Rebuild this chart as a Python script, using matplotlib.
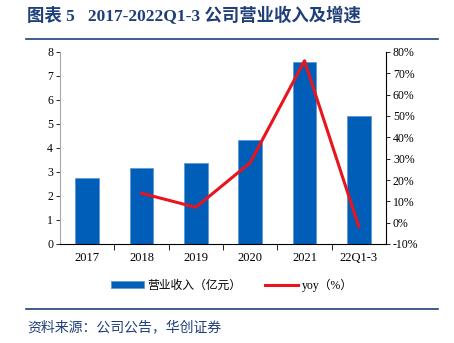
import matplotlib.pyplot as plt
import numpy as np

plt.rcParams['font.family'] = ['Liberation Serif', 'Noto Sans CJK SC']

# revenue (100m yuan) and yoy growth (%)
years = ['2017', '2018', '2019', '2020', '2021', '22Q1-3']
revenue = [2.77, 3.15, 3.39, 4.33, 7.58, 5.32]
yoy = [None, 13.8, 7.2, 28.1, 75.9, -1.9]

bar_color = '#005EB8'
line_color = '#E8141E'
navy = '#1F3F7A'

fig = plt.figure(figsize=(4.54, 3.43), dpi=100)
ax = fig.add_axes([60 / 454, 1 - 244 / 343, 326 / 454, 192 / 343])
x = np.arange(len(years))

ax.bar(x, revenue, width=0.44, color=bar_color, edgecolor='#5B9BD5', linewidth=0.6,
       label='营业收入（亿元）', zorder=2)
ax.set_xlim(-0.5, len(years) - 0.5)
ax.set_ylim(0, 8)
ax.set_yticks(range(0, 9))
ax.set_xticks(x)
ax.set_xticklabels(years)
ax.set_xticks(x[:-1] + 0.5, minor=True)
ax.tick_params(axis='x', which='major', length=0, pad=6, labelsize=9)
ax.tick_params(axis='x', which='minor', length=4, direction='out', width=0.6)
ax.tick_params(axis='y', length=3, width=0.6, labelsize=8.5, pad=2)
ax.spines['top'].set_visible(False)
ax.spines['right'].set_visible(False)
ax.spines['left'].set_color('#A6A6A6')
ax.spines['bottom'].set_linewidth(0.8)

ax2 = ax.twinx()
xs = [i for i, v in enumerate(yoy) if v is not None]
ys = [v for v in yoy if v is not None]
ax2.plot(xs, ys, color=line_color, linewidth=2.2, label='yoy（%）', zorder=3)
ax2.set_ylim(-10, 80)
ax2.set_yticks(range(-10, 81, 10))
ax2.set_yticklabels([f'{v}%' for v in range(-10, 81, 10)])
ax2.tick_params(axis='y', length=3, width=0.6, labelsize=8.5, pad=2)
ax2.spines['top'].set_visible(False)
ax2.spines['left'].set_visible(False)
ax2.spines['bottom'].set_visible(False)
ax2.spines['right'].set_linewidth(0.8)

h1, l1 = ax.get_legend_handles_labels()
h2, l2 = ax2.get_legend_handles_labels()
fig.legend(h1 + h2, l1 + l2, loc='center', bbox_to_anchor=(232 / 454, 1 - 285 / 343),
           ncol=2, frameon=False, fontsize=8.5, handlelength=2.8, handleheight=0.6,
           columnspacing=2.0, handletextpad=0.3)

# header and footer
fig.text(27 / 454, 1 - 16 / 343, '图表 5   2017-2022Q1-3 公司营业收入及增速', color=navy,
         fontsize=12.5, fontweight='bold', va='center', ha='left')
fig.add_artist(plt.Line2D([26 / 454, 438 / 454], [1 - 39 / 343] * 2, color=navy, linewidth=1.2))
fig.add_artist(plt.Line2D([26 / 454, 438 / 454], [1 - 309 / 343] * 2, color=navy, linewidth=1.2))
fig.text(27 / 454, 1 - 327 / 343, '资料来源：公司公告，华创证券', color=navy, fontsize=10,
         style='italic', va='center', ha='left', family=['Noto Sans CJK SC'])

fig.savefig('out.png', dpi=100)
